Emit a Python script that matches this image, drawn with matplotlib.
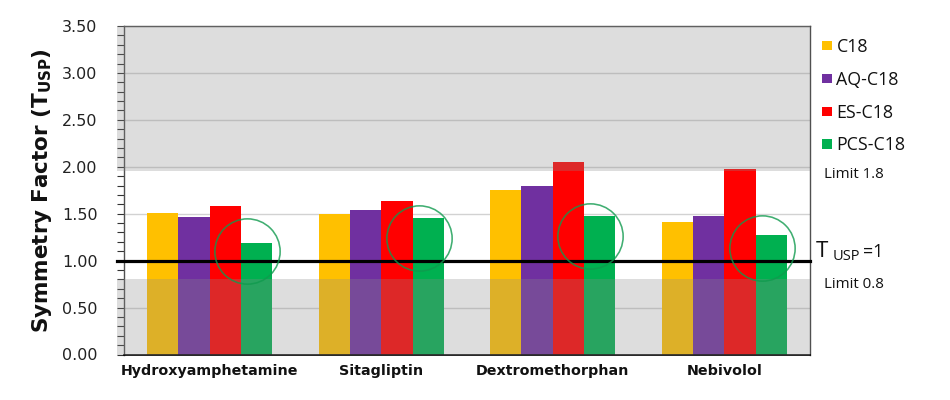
import matplotlib
matplotlib.use("Agg")
import matplotlib.pyplot as plt
import numpy as np
from matplotlib.patches import Rectangle
from matplotlib.ticker import MultipleLocator, FormatStrFormatter

# ---- data ----
categories = ["Hydroxyamphetamine", "Sitagliptin", "Dextromethorphan", "Nebivolol"]
series_names = ["C18", "AQ-C18", "ES-C18", "PCS-C18"]
c18 = [1.51, 1.50, 1.75, 1.415]
aq_c18 = [1.47, 1.54, 1.80, 1.48]
es_c18 = [1.58, 1.64, 2.05, 1.975]
pcs_c18 = [1.19, 1.45, 1.48, 1.275]
series_colors = ["#FFC000", "#7030A0", "#FF0000", "#00B050"]
circle_y = [1.10, 1.245, 1.26, 1.14]
upper_limit_band = (1.95, 3.5)
lower_limit_band = (0.0, 0.8)
target_line = 1.0
y_ticks = [0.0, 0.5, 1.0, 1.5, 2.0, 2.5, 3.0, 3.5]

W, H = 950, 400
fig = plt.figure(figsize=(W / 100, H / 100), dpi=100)
def fx(px): return px / W
def fy(py): return 1 - py / H

ax = fig.add_axes([fx(124), fy(354.5), (810 - 124) / W, (354.5 - 26) / H])

values = [c18, aq_c18, es_c18, pcs_c18]
x = np.arange(len(categories))
w = 0.1825
for k, (vals, col) in enumerate(zip(values, series_colors)):
    ax.bar(x + (k - 1.5) * w, vals, width=w, color=col, linewidth=0, zorder=2)

ax.set_xlim(-0.5, len(categories) - 0.5)
ax.set_ylim(0, 3.5)
ax.set_yticks(y_ticks)
ax.yaxis.set_major_formatter(FormatStrFormatter("%.2f"))
ax.yaxis.set_minor_locator(MultipleLocator(0.1))
ax.set_axisbelow(True)
ax.grid(axis="y", which="major", color="#D2D2D2", linewidth=1.0, zorder=1)

# overlay limit bands
for lo, hi in (upper_limit_band, lower_limit_band):
    ax.axhspan(lo, hi, xmin=-0.0102, xmax=1.0, facecolor="#8A8A8A", alpha=0.29,
               linewidth=0, zorder=3, clip_on=False)

ax.axhline(target_line, xmin=-0.0102, xmax=1.0, color="black", linewidth=2.3,
           zorder=4, clip_on=False)

# green circles
ax.plot(x + 1.2 * w, circle_y, linestyle="none", marker="o", markersize=47,
        markerfacecolor="none", markeredgecolor="#109A4E", markeredgewidth=1.15,
        alpha=0.8, zorder=5)

ax.set_xticks(x)
ax.set_xticklabels(categories, fontsize=10.3, fontweight="bold", color="#111111")
ax.tick_params(axis="x", length=0, pad=7)
ax.tick_params(axis="y", which="both", direction="out", length=5, width=0.8,
               color="#333333", labelsize=11.5, pad=14)
for lab in ax.get_yticklabels():
    lab.set_color("#222222")

for s in ("top", "right", "left"):
    ax.spines[s].set_color("#505050")
    ax.spines[s].set_linewidth(1.0)
ax.spines["bottom"].set_color("black")
ax.spines["bottom"].set_linewidth(1.2)

# y label
fig.text(fx(42), fy(191), r"$\mathbf{Symmetry\ Factor\ (T_{USP})}$", rotation=90,
         ha="center", va="center", fontsize=15.5, color="#111111")

# legend (manual)
for k, (name, col) in enumerate(zip(series_names, series_colors)):
    cy = 45.7 + k * 32.8
    fig.patches.append(Rectangle((fx(822), fy(cy + 4.75)), 9.5 / W, 9.5 / H,
                                 transform=fig.transFigure, facecolor=col,
                                 edgecolor="none"))
    fig.text(fx(836.5), fy(cy + 6.2), name, ha="left", va="baseline",
             fontsize=12.8, family="Open Sans", color="#111111")

fig.text(fx(824), fy(178), "Limit 1.8", ha="left", va="baseline",
         fontsize=10.8, family="Open Sans", color="#111111")
fig.text(fx(824), fy(288.3), "Limit 0.8", ha="left", va="baseline",
         fontsize=10.8, family="Open Sans", color="#111111")

fig.text(fx(816), fy(256.7), "T", ha="left", va="baseline", fontsize=16,
         family="Open Sans", color="#111111")
fig.text(fx(833), fy(259.5), "USP", ha="left", va="baseline", fontsize=10.5,
         family="Open Sans", color="#111111")
fig.text(fx(863), fy(256.7), "=1", ha="left", va="baseline", fontsize=12.8,
         family="Open Sans", color="#111111")

fig.savefig("out.png", dpi=100)
